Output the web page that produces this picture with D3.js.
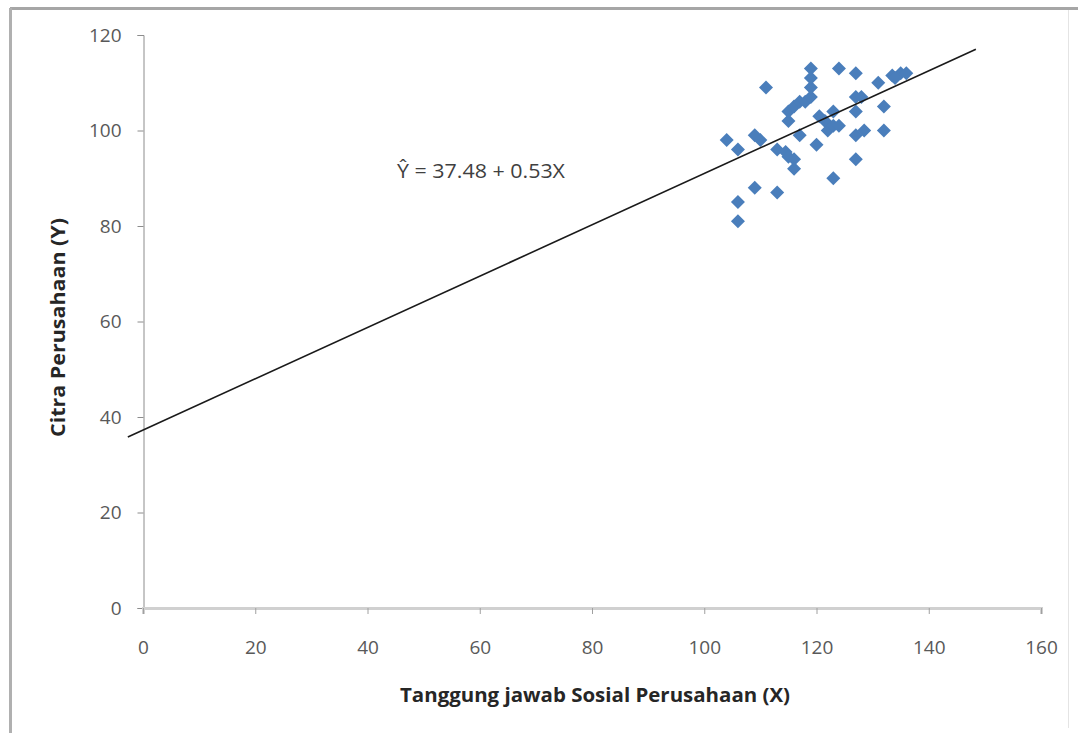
<!DOCTYPE html>
<html><head><meta charset="utf-8">
<script src="https://cdn.jsdelivr.net/npm/d3@7"></script>
<style>body{margin:0;background:#fff}svg{display:block}</style>
</head><body>
<svg id="c" width="1078" height="733"></svg>
<script>
const xTicks = [0,20,40,60,80,100,120,140,160];
const yTicks = [0,20,40,60,80,100,120];
const xValues = [104,106,106,106,109,109,110,111,113,113,114.5,115,116,116,115,115,116,117,118,119,119,119,119,117,120,120.5,121.5,122,123,123,124,123,124,127,127,128,127,127,127,128.5,131,132,132,133.5,135,136,134];
const yValues = [98,96,85,81,88,99,98,109,87,96,95.5,94.5,92,94,102,104,105,106,106,107,109,111,113,99,97,103,102,100,104,101,101,90,113,112,107,107,104,99,94,100,110,105,100,111.5,112,112,111];
const lineX = [-2.7,148.4];
const lineY = [35.8,117.0];
const equation = "Ŷ = 37.48 + 0.53X";
const xTitle = "Tanggung jawab Sosial Perusahaan (X)";
const yTitle = "Citra Perusahaan (Y)";

const FONT = "'Open Sans', sans-serif";
const svg = d3.select("#c");
// frame
svg.append("line").attr("x1",10).attr("x2",1078).attr("y1",8.5).attr("y2",8.5).attr("stroke","#a6a6a6").attr("stroke-width",3);
svg.append("line").attr("x1",10.5).attr("x2",10.5).attr("y1",8).attr("y2",733).attr("stroke","#b0b0b0").attr("stroke-width",3);
svg.append("line").attr("x1",1068.5).attr("x2",1068.5).attr("y1",10).attr("y2",728).attr("stroke","#e4e4e4").attr("stroke-width",1);

const x = d3.scaleLinear().domain([0,160]).range([143,1041]);
const y = d3.scaleLinear().domain([0,120]).range([608,35]);

// y axis
const ya = svg.append("g").attr("transform","translate(143.5,0)")
  .call(d3.axisLeft(y).tickValues(yTicks).tickSize(6).tickPadding(16));
ya.select(".domain").attr("stroke","#8c8c8c");
ya.selectAll(".tick line").attr("stroke","#8c8c8c");
ya.selectAll("text").attr("font-family",FONT).attr("font-size",19).attr("fill","#595959");

// x axis
const xa = svg.append("g").attr("transform","translate(0,608)")
  .call(d3.axisBottom(x).tickValues(xTicks).tickSize(6).tickPadding(27));
xa.select(".domain").attr("stroke","#d0d0d0").attr("stroke-width",3);
xa.selectAll(".tick line").attr("stroke","#a0a0a0");
xa.selectAll("text").attr("font-family",FONT).attr("font-size",19).attr("fill","#595959");

// points
svg.append("g").selectAll("path").data(xValues.map((v,i)=>[v,yValues[i]])).join("path")
  .attr("transform",d=>`translate(${x(d[0])},${y(d[1])}) rotate(45)`)
  .attr("d",d3.symbol().type(d3.symbolSquare).size(98))
  .attr("fill","#4a7ebb");

// regression line
svg.append("line").attr("x1",x(lineX[0])).attr("y1",y(lineY[0])).attr("x2",x(lineX[1])).attr("y2",y(lineY[1]))
  .attr("stroke","#1a1a1a").attr("stroke-width",1.6);

svg.append("text").attr("x",397).attr("y",178).attr("font-family",FONT).attr("font-size",20)
  .attr("textLength",168).attr("lengthAdjust","spacingAndGlyphs").attr("fill","#404040").text(equation);

svg.append("text").attr("x",400).attr("y",702).attr("font-family",FONT).attr("font-weight","bold").attr("font-size",20)
  .attr("textLength",390).attr("lengthAdjust","spacingAndGlyphs").attr("fill","#262626").text(xTitle);
svg.append("text").attr("transform","translate(65,437) rotate(-90)").attr("font-family",FONT).attr("font-weight","bold").attr("font-size",19)
  .attr("textLength",219).attr("lengthAdjust","spacingAndGlyphs").attr("fill","#262626").text(yTitle);
</script>
</body></html>
